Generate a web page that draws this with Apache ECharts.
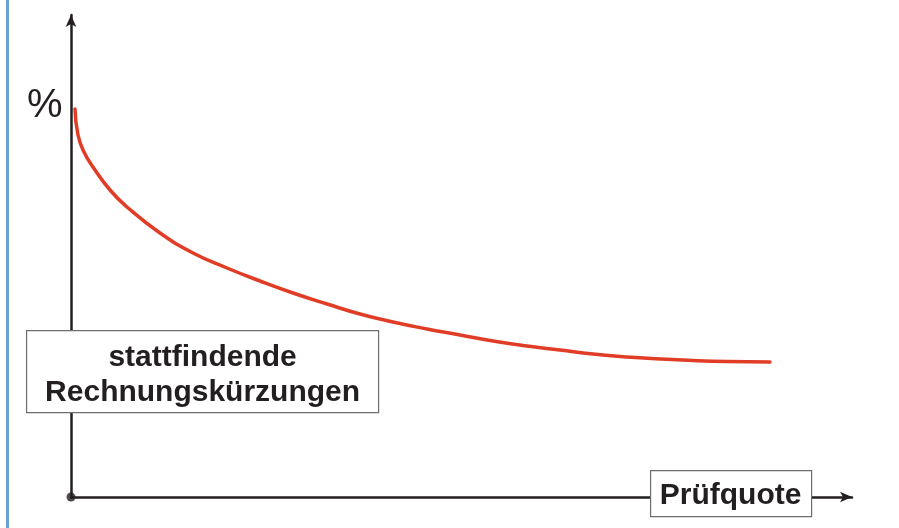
<!DOCTYPE html>
<html>
<head>
<meta charset="utf-8">
<script src="https://cdn.jsdelivr.net/npm/echarts@6/dist/echarts.min.js"></script>
<style>
  html, body { margin: 0; padding: 0; background: #fff; }
  #chart { width: 899px; height: 528px; }
</style>
</head>
<body>
<div id="chart"></div>
<script>
// curve (x: Prüfquote, y: %), arbitrary units
const quote = [4, 7, 13, 22, 39, 56, 89, 122, 156, 189, 222, 256, 289, 322, 356, 389, 422, 456, 489, 522, 556, 589, 622, 656, 699];
const kuerzung = [388, 362, 345, 330, 307, 290, 264, 244, 229, 216, 204, 193, 183, 175, 168, 162, 156, 151, 147, 143, 140, 138, 136.5, 135.5, 135];

const yLabel = '%';
const xLabel = 'Prüfquote';
const boxLabel = ['stattfindende', 'Rechnungskürzungen'];

const axisColor = '#231f20';
const fam = 'Liberation Sans';

const chart = echarts.init(document.getElementById('chart'));
chart.setOption({
  animation: false,
  backgroundColor: '#fff',
  grid: { left: 71, right: 47, top: 15, bottom: 31 },
  xAxis: {
    type: 'value', min: 0, max: 781,
    axisLine: { show: true, symbol: ['none', 'arrow'], symbolSize: [8, 12], lineStyle: { color: axisColor, width: 2.5 } },
    axisTick: { show: false }, axisLabel: { show: false }, splitLine: { show: false }
  },
  yAxis: {
    type: 'value', min: 0, max: 482,
    axisLine: { show: true, symbol: ['none', 'arrow'], symbolSize: [8, 12], lineStyle: { color: axisColor, width: 2.5 } },
    axisTick: { show: false }, axisLabel: { show: false }, splitLine: { show: false }
  },
  series: [
    {
      type: 'line',
      data: quote.map((x, i) => [x, kuerzung[i]]),
      smooth: 0.5,
      showSymbol: false,
      lineStyle: { color: '#e03c26', width: 3.5, cap: 'round' }
    },
    {
      type: 'scatter',
      data: [[0, 0]],
      symbolSize: 9,
      clip: false,
      itemStyle: { color: axisColor }
    }
  ],
  graphic: [
    { type: 'rect', left: 6, top: 0, z: 100, shape: { width: 3, height: 528 }, style: { fill: '#6aa3d2' } },
    { type: 'text', left: 27, top: 86, z: 100, style: { text: yLabel, fontFamily: fam, fontSize: 40, fill: axisColor } },
    {
      type: 'group', left: 26, top: 330, z: 100,
      children: [
        { type: 'rect', z: 100, shape: { x: 0, y: 0, width: 352, height: 82 }, style: { fill: '#fff', stroke: '#6d6d6d', lineWidth: 1.2 } },
        { type: 'text', z: 101, x: 176, y: 45, style: { text: boxLabel.join('\n'), fontFamily: fam, fontWeight: 'bold', fontSize: 30, fill: axisColor, align: 'center', verticalAlign: 'middle', lineHeight: 35 } }
      ]
    },
    {
      type: 'group', left: 650, top: 470, z: 100,
      children: [
        { type: 'rect', z: 100, shape: { x: 0, y: 0, width: 161, height: 46 }, style: { fill: '#fff', stroke: '#6d6d6d', lineWidth: 1.2 } },
        { type: 'text', z: 101, x: 80, y: 25, style: { text: xLabel, fontFamily: fam, fontWeight: 'bold', fontSize: 30, fill: axisColor, align: 'center', verticalAlign: 'middle' } }
      ]
    }
  ]
});
</script>
</body>
</html>
